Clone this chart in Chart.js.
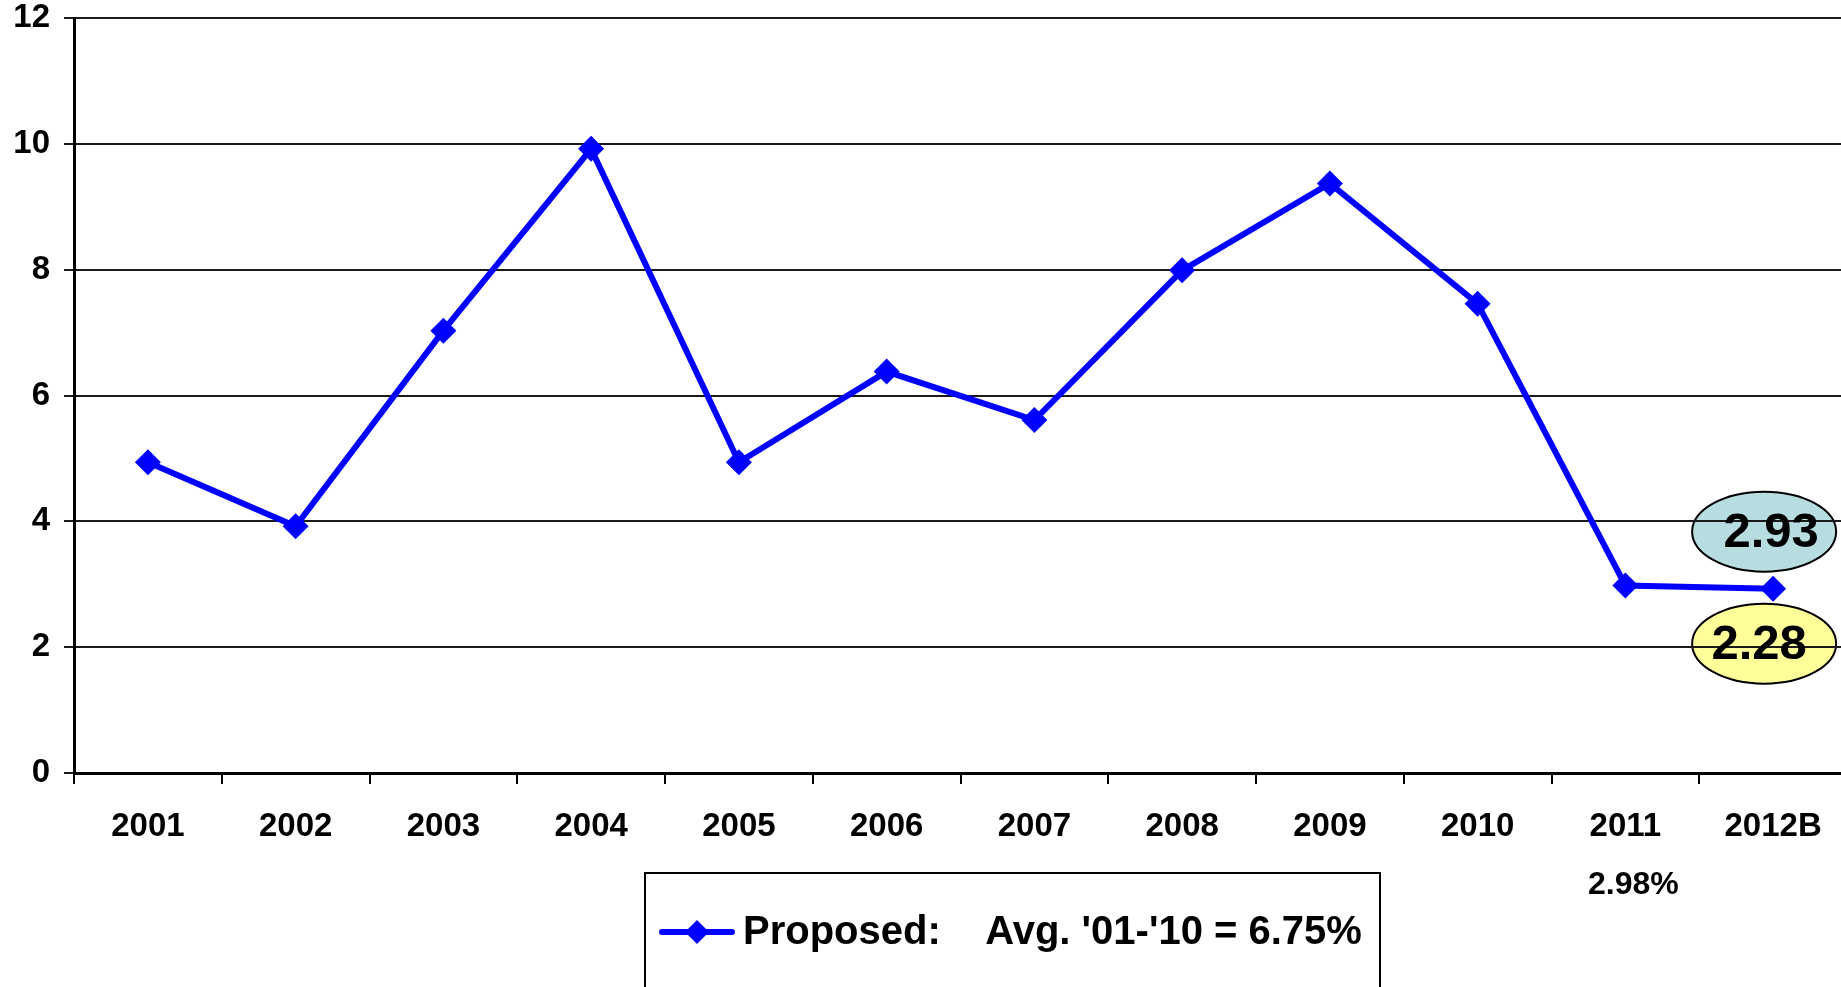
<!DOCTYPE html>
<html>
<head>
<meta charset="utf-8">
<script src="https://cdn.jsdelivr.net/npm/chart.js@4.4.1/dist/chart.umd.min.js"></script>
<style>
  html, body { margin: 0; padding: 0; background: #fff; overflow: hidden; }
  #wrap { width: 1841px; height: 987px; overflow: hidden; position: relative; }
  canvas { display: block; }
</style>
</head>
<body>
<div id="wrap"><canvas id="chart" width="1860" height="1000"></canvas></div>
<script>
// data
const years = ['2001', '2002', '2003', '2004', '2005', '2006', '2007', '2008', '2009', '2010', '2011', '2012B'];
const proposed = [4.94, 3.92, 7.03, 9.92, 4.94, 6.38, 5.61, 7.99, 9.37, 7.46, 2.98, 2.93];
const notesBelow = ['', '', '', '', '', '', '', '', '', '', '2.98%', ''];
const calloutTexts = ['2.93', '2.28'];
const seriesLabel = "Proposed:    Avg. '01-'10 = 6.75%";

const FONT = "'Liberation Sans', Arial, sans-serif";
const BLUE = '#0000ff';

function diamond(ctx, x, y, r) {
  ctx.beginPath();
  ctx.moveTo(x, y - r);
  ctx.lineTo(x + r, y);
  ctx.lineTo(x, y + r);
  ctx.lineTo(x - r, y);
  ctx.closePath();
  ctx.fill();
}

const extras = {
  id: 'extras',
  beforeDraw(chart) {
    const ctx = chart.ctx;
    const pt = chart.getDatasetMeta(0).data[proposed.length - 1];
    const fills = ['#b8dde0', '#ffff99'];
    const dys = [-57, 55];
    ctx.save();
    calloutTexts.forEach((t, i) => {
      const cx = pt.x - 9, cy = pt.y + dys[i];
      ctx.beginPath();
      ctx.ellipse(cx, cy, 72, 40, 0, 0, Math.PI * 2);
      ctx.fillStyle = fills[i];
      ctx.fill();
      ctx.lineWidth = 2;
      ctx.strokeStyle = '#000';
      ctx.stroke();
    });
    ctx.restore();
  },
  afterDraw(chart) {
    const ctx = chart.ctx;
    const xs = chart.scales.x;
    const pt = chart.getDatasetMeta(0).data[proposed.length - 1];
    ctx.save();
    // callout numbers
    ctx.fillStyle = '#000';
    ctx.textAlign = 'center';
    ctx.textBaseline = 'middle';
    ctx.font = 'bold 49px ' + FONT;
    ctx.fillText(calloutTexts[0], pt.x - 2, pt.y - 55);
    ctx.fillText(calloutTexts[1], pt.x - 14, pt.y + 57);

    // notes under the year labels
    ctx.font = 'bold 32px ' + FONT;
    notesBelow.forEach((n, i) => {
      if (n) ctx.fillText(n, xs.getPixelForValue(i) + 8, 885);
    });

    // legend box
    ctx.lineWidth = 2;
    ctx.strokeStyle = '#000';
    ctx.strokeRect(645, 873, 735, 150);
    ctx.strokeStyle = BLUE;
    ctx.lineWidth = 6;
    ctx.lineCap = 'round';
    ctx.beginPath();
    ctx.moveTo(662, 932);
    ctx.lineTo(732, 932);
    ctx.stroke();
    ctx.fillStyle = BLUE;
    diamond(ctx, 697, 932, 12);
    ctx.fillStyle = '#000';
    ctx.textAlign = 'left';
    ctx.font = 'bold 40px ' + FONT;
    ctx.fillText(seriesLabel, 743, 933);
    ctx.restore();
  }
};

new Chart(document.getElementById('chart'), {
  type: 'line',
  data: {
    labels: years,
    datasets: [{
      label: seriesLabel,
      data: proposed,
      borderColor: BLUE,
      backgroundColor: BLUE,
      borderWidth: 6,
      pointStyle: 'rectRot',
      pointRadius: 13,
      pointBorderWidth: 0,
      pointBackgroundColor: BLUE,
      tension: 0,
      fill: false
    }]
  },
  options: {
    responsive: false,
    animation: false,
    layout: { padding: { top: 18, right: 2, left: 0, bottom: 0 } },
    plugins: {
      legend: { display: false },
      tooltip: { enabled: false }
    },
    scales: {
      x: {
        offset: true,
        grid: { offset: true, drawOnChartArea: false, color: '#000', lineWidth: 2, tickLength: 11 },
        border: { color: '#000', width: 3 },
        ticks: {
          color: '#000',
          font: { family: FONT, size: 33, weight: 'bold', lineHeight: 1.2 },
          padding: 23,
          maxRotation: 0,
          autoSkip: false
        },
        afterFit(s) { s.height = 227; s.paddingLeft = 0; s.paddingRight = 0; }
      },
      y: {
        min: 0,
        max: 12,
        grid: { color: '#1a1a1a', lineWidth: 2, tickLength: 10 },
        border: { color: '#000', width: 3 },
        ticks: {
          stepSize: 2,
          color: '#000',
          font: { family: FONT, size: 33, weight: 'bold', lineHeight: 1 },
          padding: 14
        },
        afterFit(s) { s.width = 74; s.paddingTop = 0; s.paddingBottom = 0; }
      }
    }
  },
  plugins: [extras]
});
</script>
</body>
</html>
